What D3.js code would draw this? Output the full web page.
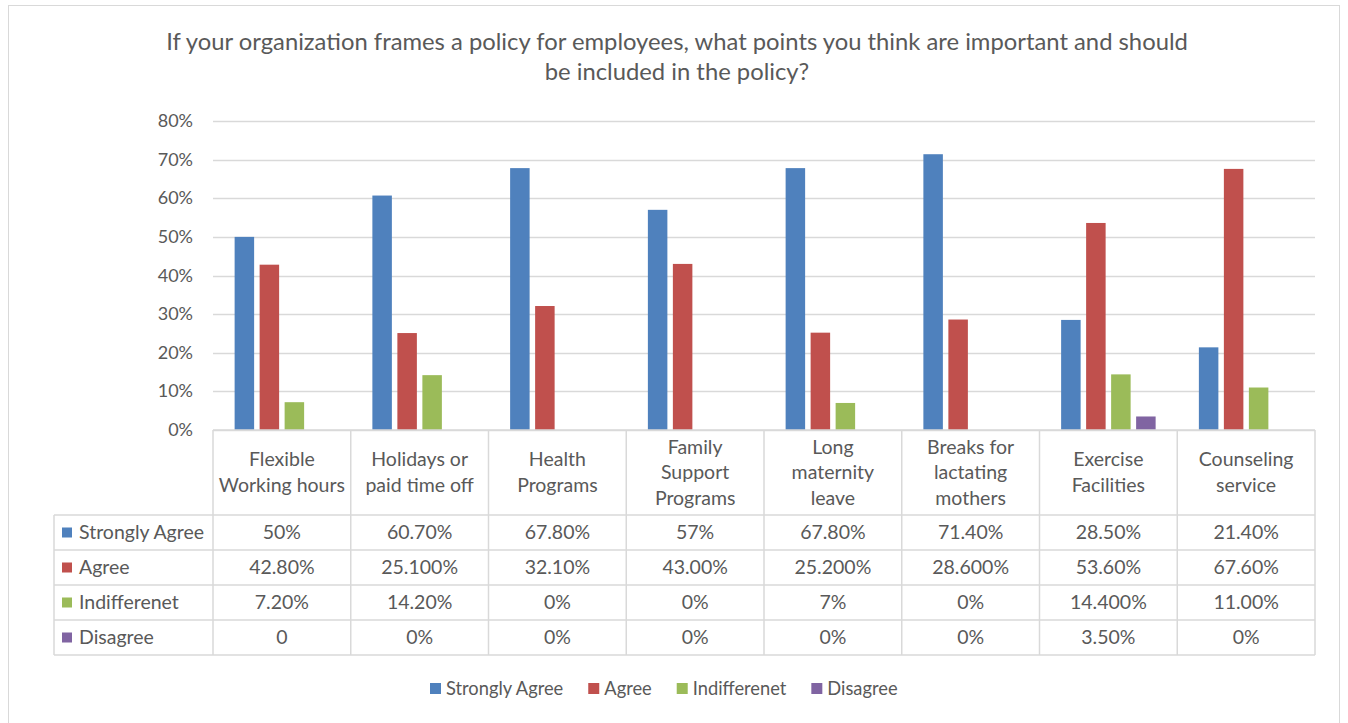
<!DOCTYPE html>
<html><head><meta charset="utf-8">
<script src="https://cdn.jsdelivr.net/npm/d3@7"></script>
<style>body{margin:0;background:#fff}svg{display:block}text{font-family:Lato,"Open Sans",sans-serif;fill:#595959}</style>
</head><body><svg id="c" width="1348" height="723"></svg>
<script>
const categories = [["Flexible","Working hours"],["Holidays or","paid time off"],["Health","Programs"],["Family","Support","Programs"],["Long","maternity","leave"],["Breaks for","lactating","mothers"],["Exercise","Facilities"],["Counseling","service"]];
const series = ["Strongly Agree","Agree","Indifferenet","Disagree"];
const colors = ["#4f81bd","#c0504d","#9bbb59","#8064a2"];
const stronglyAgree = [50,60.7,67.8,57,67.8,71.4,28.5,21.4];
const agree = [42.8,25.1,32.1,43,25.2,28.6,53.6,67.6];
const indifferent = [7.2,14.2,0,0,7,0,14.4,11];
const disagree = [0,0,0,0,0,0,3.5,0];
const labelsStronglyAgree = ["50%","60.70%","67.80%","57%","67.80%","71.40%","28.50%","21.40%"];
const labelsAgree = ["42.80%","25.100%","32.10%","43.00%","25.200%","28.600%","53.60%","67.60%"];
const labelsIndifferent = ["7.20%","14.20%","0%","0%","7%","0%","14.400%","11.00%"];
const labelsDisagree = ["0","0%","0%","0%","0%","0%","3.50%","0%"];
const yTicks = [0,10,20,30,40,50,60,70,80];
const title = ["If your organization frames a policy for employees, what points you think are important and should","be included in the policy?"];

const values = [stronglyAgree, agree, indifferent, disagree];
const labels = [labelsStronglyAgree, labelsAgree, labelsIndifferent, labelsDisagree];
const svg = d3.select("#c");
const grid = "#d9d9d9";
svg.append("rect").attr("x",8.5).attr("y",5.5).attr("width",1331).attr("height",730).attr("fill","#fff").attr("stroke",grid);

svg.selectAll("text.title").data(title).join("text").attr("class","title")
  .attr("x",677).attr("y",(d,i)=>50+i*30).attr("text-anchor","middle").style("font-size","23.8px").text(d=>d);

const L=213,R=1315,T=121,B=430;
const y = d3.scaleLinear().domain([0,80]).range([B,T]);
const x0 = d3.scaleBand().domain(d3.range(categories.length)).range([L,R]);
const inner = 94.5, off=(x0.bandwidth()-inner)/2;
const x1 = d3.scaleBand().domain(d3.range(series.length)).range([off,off+inner]).paddingInner(0.22);

svg.append("g").selectAll("line").data(yTicks).join("line")
  .attr("x1",L).attr("x2",R).attr("y1",d=>Math.round(y(d))+0.5).attr("y2",d=>Math.round(y(d))+0.5)
  .attr("stroke",grid).attr("stroke-width",1.3);
svg.append("g").selectAll("text").data(yTicks).join("text")
  .attr("x",193).attr("y",d=>y(d)+6).attr("text-anchor","end").style("font-size","18px").text(d=>d+"%");

const g = svg.append("g");
categories.forEach((c,ci)=>{
  series.forEach((s,si)=>{
    const v = values[si][ci];
    if(v>0) g.append("rect").attr("x",x0(ci)+x1(si)).attr("width",x1.bandwidth())
      .attr("y",y(v)).attr("height",y(0)-y(v)).attr("fill",colors[si]);
  });
});

// table
const rowTop=515, rowH=35, tblL=54, fs="19.5px";
const tl = svg.append("g").attr("stroke",grid).attr("stroke-width",1.5);
tl.append("line").attr("x1",L).attr("x2",R).attr("y1",B).attr("y2",B);
for(let r=0;r<=series.length;r++) tl.append("line").attr("x1",tblL).attr("x2",R).attr("y1",rowTop+r*rowH).attr("y2",rowTop+r*rowH);
tl.append("line").attr("x1",tblL).attr("x2",tblL).attr("y1",rowTop).attr("y2",rowTop+series.length*rowH);
for(let i=0;i<=categories.length;i++){
  const xx = i<categories.length?x0(i):R;
  tl.append("line").attr("x1",xx).attr("x2",xx).attr("y1",B).attr("y2",rowTop+series.length*rowH);
}
categories.forEach((c,ci)=>{
  const cx = x0(ci)+x0.bandwidth()/2;
  const lh=25.5, cy=(B+rowTop)/2;
  c.forEach((line,li)=>{
    svg.append("text").attr("x",cx).attr("y",cy-(c.length-1)*lh/2+li*lh+6.5).attr("text-anchor","middle").style("font-size",fs).text(line);
  });
  series.forEach((s,si)=>{
    svg.append("text").attr("x",cx).attr("y",rowTop+si*rowH+rowH/2+6.5).attr("text-anchor","middle").style("font-size",fs).text(labels[si][ci]);
  });
});
series.forEach((s,si)=>{
  const yy=rowTop+si*rowH+rowH/2;
  svg.append("rect").attr("x",62).attr("y",yy-5).attr("width",10).attr("height",10).attr("fill",colors[si]);
  svg.append("text").attr("x",79).attr("y",yy+6.5).style("font-size",fs).text(s);
});

// legend
const lg = svg.append("g");
let lx=430;
series.forEach((s,si)=>{
  lg.append("rect").attr("x",lx).attr("y",683).attr("width",11).attr("height",11).attr("fill",colors[si]);
  const t = lg.append("text").attr("x",lx+16).attr("y",695).style("font-size","18.3px").text(s);
  lx += 16 + t.node().getComputedTextLength() + 25;
});
</script></body></html>
